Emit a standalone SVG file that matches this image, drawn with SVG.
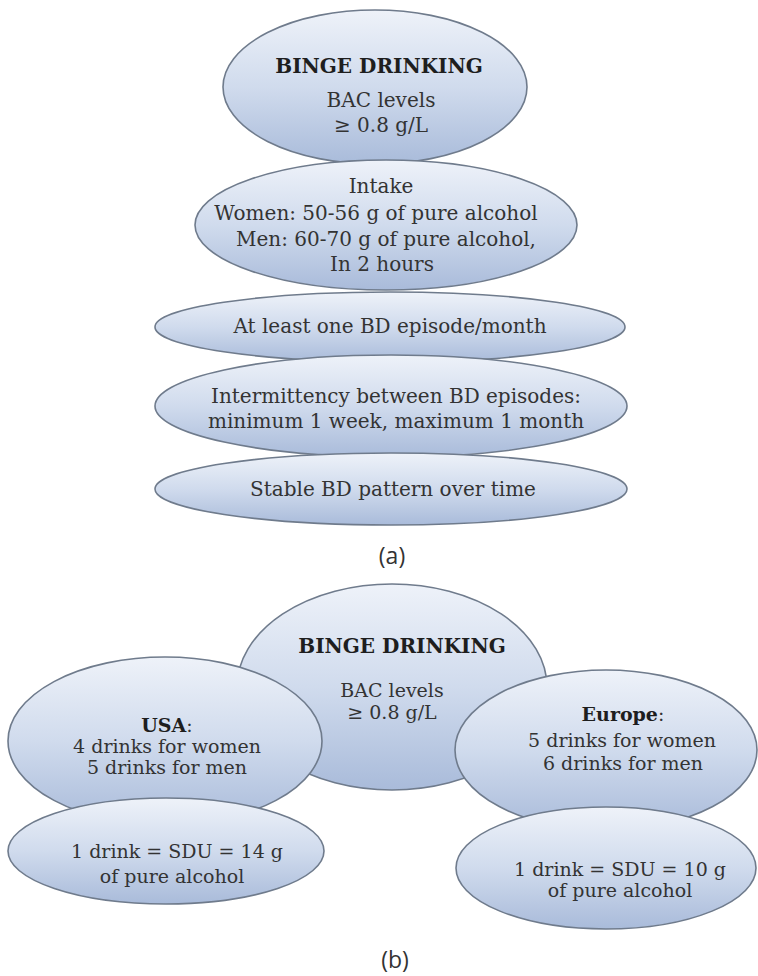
<svg xmlns="http://www.w3.org/2000/svg" width="758" height="976" viewBox="0 0 758 976">
<defs>
<linearGradient id="g" x1="0" y1="0" x2="0" y2="1">
<stop offset="0" stop-color="#eef2f9"/>
<stop offset="0.5" stop-color="#d0dbed"/>
<stop offset="1" stop-color="#a9bbda"/>
</linearGradient>
<style>
.e{fill:url(#g);stroke:#6f7b8c;stroke-width:1.6}
.t{font-family:"DejaVu Serif","Liberation Serif",serif;font-size:20px;fill:#333;text-anchor:middle}
.s{font-size:19px}
.b{font-weight:bold;fill:#1e1e1e}
.l{font-family:"Open Sans","Noto Sans",sans-serif;font-size:23px;fill:#333;text-anchor:middle}
</style>
</defs>
<rect width="758" height="976" fill="#fff"/>
<g id="a1"><ellipse class="e" cx="375" cy="87" rx="152" ry="77"/>
<text class="t b" x="379" y="73">BINGE DRINKING</text>
<text class="t" x="381" y="107">BAC levels</text>
<text class="t" x="381" y="132">≥ 0.8 g/L</text></g>
<g id="a2"><ellipse class="e" cx="386" cy="225" rx="191" ry="65"/>
<text class="t" x="381" y="193">Intake</text>
<text class="t" x="376" y="220">Women: 50-56 g of pure alcohol</text>
<text class="t" x="386" y="246">Men: 60-70 g of pure alcohol,</text>
<text class="t" x="382" y="271">In 2 hours</text></g>
<g id="a3"><ellipse class="e" cx="390" cy="327" rx="235" ry="35"/>
<text class="t" x="390" y="333">At least one BD episode/month</text></g>
<g id="a4"><ellipse class="e" cx="391" cy="406" rx="236" ry="51"/>
<text class="t" x="396" y="403">Intermittency between BD episodes:</text>
<text class="t" x="396" y="428">minimum 1 week, maximum 1 month</text></g>
<g id="a5"><ellipse class="e" cx="391" cy="489" rx="236" ry="36"/>
<text class="t" x="393" y="496">Stable BD pattern over time</text></g>
<text class="l" x="392" y="564">(a)</text>
<g id="bc"><ellipse class="e" cx="392" cy="687" rx="155" ry="103"/>
<text class="t b" x="402" y="653">BINGE DRINKING</text>
<text class="t s" x="392" y="697">BAC levels</text>
<text class="t s" x="392" y="719">≥ 0.8 g/L</text></g>
<g id="usa"><ellipse class="e" cx="165" cy="741" rx="157" ry="84"/>
<text class="t s" x="167" y="732"><tspan class="b">USA</tspan>:</text>
<text class="t s" x="167" y="753">4 drinks for women</text>
<text class="t s" x="167" y="774">5 drinks for men</text></g>
<g id="usa2"><ellipse class="e" cx="166" cy="851" rx="158" ry="53"/>
<text class="t s" x="177" y="858">1 drink = SDU = 14 g</text>
<text class="t s" x="172" y="883">of pure alcohol</text></g>
<g id="eu"><ellipse class="e" cx="606" cy="750" rx="151" ry="80"/>
<text class="t s" x="623" y="721"><tspan class="b">Europe</tspan>:</text>
<text class="t s" x="622" y="747">5 drinks for women</text>
<text class="t s" x="623" y="770">6 drinks for men</text></g>
<g id="eu2"><ellipse class="e" cx="606" cy="868" rx="150" ry="61"/>
<text class="t s" x="620" y="876">1 drink = SDU = 10 g</text>
<text class="t s" x="620" y="897">of pure alcohol</text></g>
<text class="l" x="395" y="968">(b)</text>
<g id="connectors"/>
</svg>
